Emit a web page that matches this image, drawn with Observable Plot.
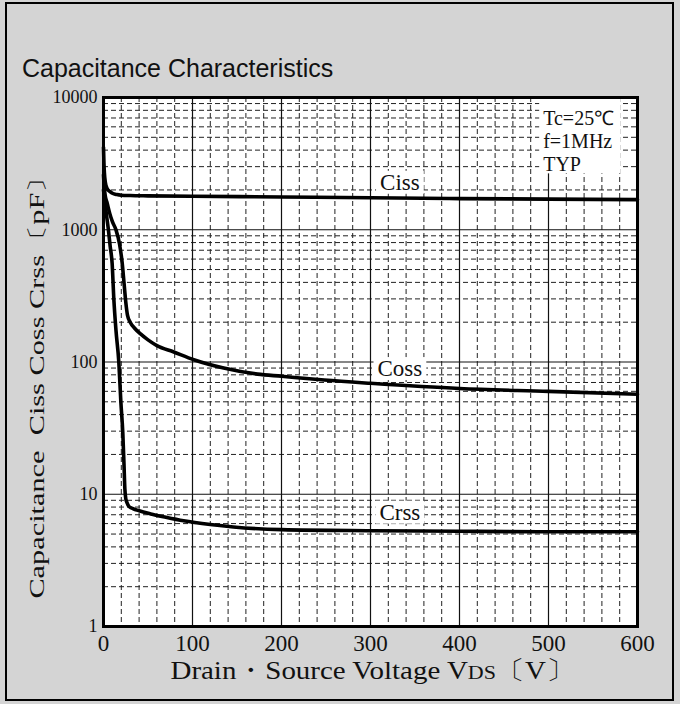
<!DOCTYPE html>
<html><head><meta charset="utf-8">
<script src="https://cdn.jsdelivr.net/npm/d3@7"></script>
<script src="https://cdn.jsdelivr.net/npm/@observablehq/plot@0.6"></script>
<style>
html,body{margin:0;padding:0;background:#d4d4d4;}
#wrap{position:relative;width:680px;height:704px;background:#d4d4d4;overflow:hidden;}
#wrap svg{position:absolute;left:0;top:0;}
#border{position:absolute;left:5px;top:2px;width:669px;height:699px;box-sizing:border-box;border:2px solid #000;pointer-events:none;}
#title{position:absolute;left:22px;top:56px;font-family:"Liberation Sans",Arial,sans-serif;font-size:25px;line-height:25px;color:#111;white-space:nowrap;}
.axlab{position:absolute;display:inline-block;white-space:pre;font-family:"Liberation Serif","Times New Roman",serif;color:#111;transform-origin:50% 50%;}
#xlabel{font-size:26px;line-height:24px;}
#ylabel{font-size:21px;line-height:21px;}
.sub{font-size:0.76em;}
</style>
</head><body>
<div id="wrap">
  <div id="title">Capacitance Characteristics</div>
  <span id="xlabel" class="axlab">Drain・Source Voltage V<span class="sub">DS</span>〔V〕</span>
  <span id="ylabel" class="axlab">Capacitance  Ciss Coss Crss〔pF〕</span>
  <div id="border"></div>
</div>
<script>
// ---- tick / grid values ----
const xTicks = [0, 100, 200, 300, 400, 500, 600];
const yTicks = [1, 10, 100, 1000, 10000];
const xMajor = [100, 200, 300, 400, 500];
const xMinor = [20, 40, 60, 80, 120, 140, 160, 180, 220, 240, 260, 280, 320, 340, 360, 380, 420, 440, 460, 480, 520, 540, 560, 580];
const yMajor = [10, 100, 1000];
const yMinor = [2, 3, 4, 5, 6, 7, 8, 9,
                20, 30, 40, 50, 60, 70, 80, 90,
                200, 300, 400, 500, 600, 700, 800, 900,
                2000, 3000, 4000, 5000, 6000, 7000, 8000, 9000];

// ---- series (V in volts, C in pF) ----
const cissV = [0, 0.5, 1, 2, 4, 6, 8, 10, 15, 20, 30, 50, 100, 200, 300, 400, 500, 600];
const cissC = [4200, 3200, 2700, 2300, 2050, 1970, 1930, 1890, 1845, 1825, 1815, 1805, 1790, 1770, 1745, 1720, 1705, 1690];

const cossV = [0, 1, 2, 4, 7, 10, 14, 18, 21, 23, 25, 27, 30, 35, 41.6, 50, 60, 79, 101.5, 135, 173, 200, 248, 300, 400, 500, 600];
const cossC = [2600, 2050, 1800, 1600, 1330, 1150, 1000, 780, 560, 400, 285, 225, 200, 180, 163, 147, 133, 119, 104, 90, 81, 78, 73, 69, 63, 60, 57];

const crssV = [0, 1.5, 3, 5.5, 7.5, 9.7, 11.6, 14, 17.2, 19.5, 21.7, 23, 24, 25, 26.5, 28.5, 33, 40, 53, 70, 90, 120, 146, 200, 300, 400, 500, 600];
const crssC = [2000, 1650, 1350, 1000, 750, 556, 300, 174, 100, 50, 29, 17, 11, 9.3, 8.6, 8.1, 7.8, 7.5, 7.1, 6.7, 6.3, 5.9, 5.65, 5.4, 5.3, 5.25, 5.2, 5.2];

// ---- annotations ----
const labelNames = ["Ciss", "Coss", "Crss"];
const labelV = [333, 333, 333];
const labelC = [2280, 89, 7.3];
const condLines = ["Tc=25℃", "f=1MHz", "TYP"];
const condV = 494;
const condC = 10000;

// ---- build tables ----
const curves = [
  ...cissV.map((v, i) => ({series: "Ciss", v, c: cissC[i]})),
  ...cossV.map((v, i) => ({series: "Coss", v, c: cossC[i]})),
  ...crssV.map((v, i) => ({series: "Crss", v, c: crssC[i]}))
];
const labels = labelNames.map((name, i) => ({name, v: labelV[i], c: labelC[i]}));
const conds = [{text: condLines.join("\n"), v: condV, c: condC}];

const serif = "Liberation Serif, Times New Roman, serif";

const chart = Plot.plot({
  width: 680,
  height: 704,
  marginTop: 97,
  marginBottom: 78,
  marginLeft: 103,
  marginRight: 43,
  style: {background: "transparent", color: "#111", fontFamily: serif, overflow: "visible"},
  x: {domain: [0, 600]},
  y: {type: "log", domain: [1, 10000]},
  marks: [
    Plot.frame({fill: "white", stroke: null}),
    Plot.ruleX(xMinor, {stroke: "#222", strokeWidth: 1, strokeDasharray: "5,3"}),
    Plot.ruleY(yMinor, {stroke: "#222", strokeWidth: 1, strokeDasharray: "5,3"}),
    Plot.ruleX(xMajor, {stroke: "#111", strokeWidth: 1.2}),
    Plot.ruleY(yMajor, {stroke: "#111", strokeWidth: 1.2}),
    Plot.line(curves, {x: "v", y: "c", z: "series", stroke: "#000", strokeWidth: 3.6, curve: "monotone-x"}),
    Plot.text(labels, {x: "v", y: "c", text: "name", fontSize: 23, fontFamily: serif, fill: "#111", textAnchor: "middle", lineAnchor: "middle"}),
    Plot.text(conds, {x: "v", y: "c", text: "text", fontSize: 20, fontFamily: serif, fill: "#111", textAnchor: "start", lineAnchor: "top", lineHeight: 1.16, dy: 11}),
    Plot.frame({stroke: "#000", strokeWidth: 3}),
    Plot.axisX({ticks: xTicks, tickSize: 0, tickPadding: 8, fontSize: 23, fontFamily: serif, label: null, tickFormat: d => String(d)}),
    Plot.axisY({ticks: yTicks, tickSize: 0, tickPadding: 6, fontSize: 18, fontFamily: serif, label: null, tickFormat: d => String(d)})
  ]
});

const wrap = document.getElementById("wrap");
wrap.insertBefore(chart, document.getElementById("title"));

// white boxes behind the curve labels and the condition block
const svgNS = "http://www.w3.org/2000/svg";
const svgRect = chart.getBoundingClientRect();
const lineG = chart.querySelector('g[aria-label="line"]');
const bg = document.createElementNS(svgNS, "g");
chart.insertBefore(bg, lineG);
const yTop = chart.scale("y").apply(10000);
chart.querySelectorAll("text").forEach(t => {
  const s = t.textContent;
  const r = t.getBoundingClientRect();
  const x0 = r.left - svgRect.left, y0 = r.top - svgRect.top;
  let box = null;
  if (labelNames.includes(s)) {
    box = [x0 - 4, y0 + 1, r.width + 8, r.height - 2];
  } else if (s.startsWith("Tc=")) {
    box = [x0 - 4, yTop, r.width + 10, y0 + r.height - yTop - 2];
  }
  if (box) {
    const rect = document.createElementNS(svgNS, "rect");
    rect.setAttribute("x", box[0]); rect.setAttribute("y", box[1]);
    rect.setAttribute("width", box[2]); rect.setAttribute("height", box[3]);
    rect.setAttribute("fill", "white");
    bg.appendChild(rect);
  }
});

// axis titles: fit to the reference extents
function place(el, cx, cy, length, rotate) {
  const w = el.offsetWidth, h = el.offsetHeight;
  el.style.left = (cx - w / 2) + "px";
  el.style.top = (cy - h / 2) + "px";
  const k = length / w;
  el.style.transform = (rotate ? "rotate(-90deg) " : "") + "scaleX(" + k + ")";
}
place(document.getElementById("xlabel"), 372, 671, 404, false);
place(document.getElementById("ylabel"), 37, 380, 436, true);
</script>
</body></html>
